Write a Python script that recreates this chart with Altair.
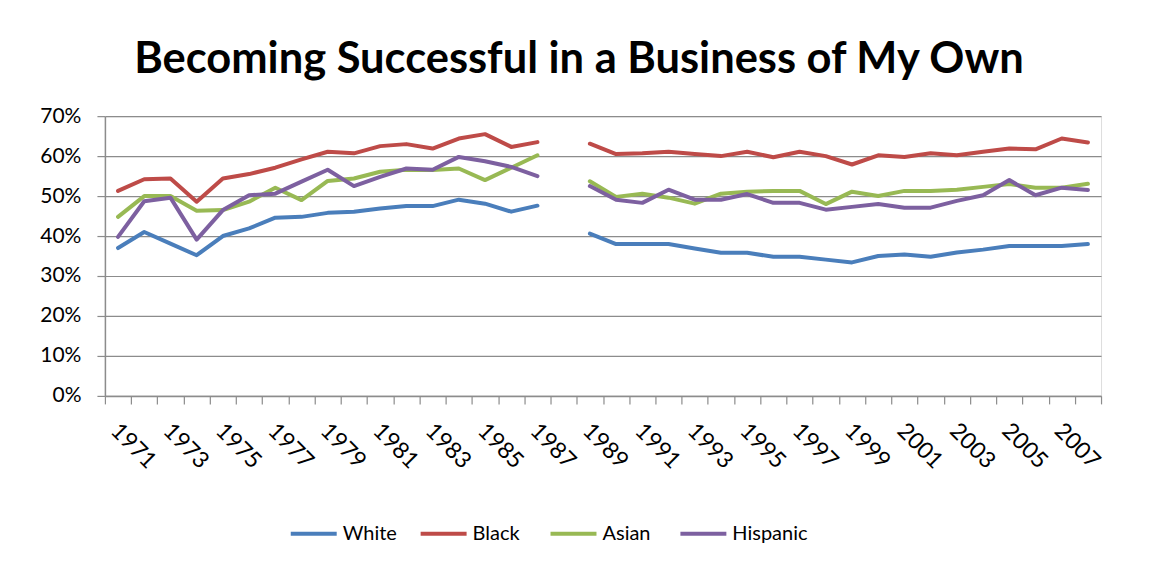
import altair as alt
import pandas as pd

years = list(range(1971, 2009))

white = [37.0, 41.0, 38.1, 35.2, 40.0, 41.9, 44.6, 44.8, 45.8, 46.1, 46.9, 47.5, 47.5, 49.1, 48.1, 46.1, 47.6,
         None,
         40.6, 38.0, 38.0, 38.0, 36.9, 35.8, 35.8, 34.8, 34.8, 34.1, 33.4, 35.0, 35.4, 34.8, 35.9, 36.6, 37.5, 37.5, 37.5, 38.0]
black = [51.3, 54.2, 54.4, 48.6, 54.4, 55.5, 57.1, 59.2, 61.1, 60.7, 62.5, 63.0, 61.9, 64.4, 65.5, 62.3, 63.5,
         None,
         63.1, 60.5, 60.7, 61.1, 60.5, 60.0, 61.1, 59.7, 61.1, 60.0, 57.9, 60.2, 59.8, 60.7, 60.2, 61.1, 61.9, 61.7, 64.4, 63.4]
asian = [44.8, 50.0, 50.0, 46.3, 46.5, 48.6, 52.1, 49.0, 53.8, 54.4, 56.1, 56.6, 56.5, 56.9, 54.0, 57.1, 60.2,
         None,
         53.7, 49.8, 50.6, 49.6, 48.1, 50.6, 51.1, 51.3, 51.3, 48.0, 51.1, 50.0, 51.3, 51.3, 51.6, 52.3, 53.0, 52.1, 52.1, 53.1]
hispanic = [39.8, 48.7, 49.6, 39.1, 46.5, 50.2, 50.6, 53.6, 56.6, 52.5, 54.8, 56.9, 56.6, 59.8, 58.7, 57.3, 55.0,
            None,
            52.5, 49.1, 48.3, 51.6, 49.1, 49.1, 50.5, 48.3, 48.3, 46.6, 47.3, 48.0, 47.1, 47.1, 48.8, 50.2, 54.0, 50.2, 52.1, 51.5]

series = {"White": white, "Black": black, "Asian": asian, "Hispanic": hispanic}
colors = ["#4A7EBB", "#BE4B48", "#98B954", "#7D60A0"]

rows = []
for name, vals in series.items():
    for y, v in zip(years, vals):
        if v is not None:
            rows.append({"year": y, "value": v, "group": name, "seg": 0 if y < 1988 else 1})
df = pd.DataFrame(rows)

FONT = "Lato"

chart = alt.Chart(df).mark_line(strokeWidth=4, strokeJoin="round", strokeCap="round").encode(
    x=alt.X("year:O",
            scale=alt.Scale(type="band", domain=years, paddingInner=0, paddingOuter=0),
            bandPosition=0.5,
            axis=alt.Axis(title=None, tickBand="extent", labelExpr="datum.value % 2 == 1 ? datum.label : ''",
                          labelAngle=45, labelAlign="left", labelBaseline="middle", labelPadding=23,
                          labelOffset=-4,
                          labelOverlap=False, labelFontSize=23, labelFont=FONT, labelColor="#000000",
                          tickSize=8, tickColor="#8C8C8C", domainColor="#8C8C8C", tickWidth=1.2,
                          domainWidth=1.5, grid=False)),
    y=alt.Y("value:Q",
            scale=alt.Scale(domain=[0, 70], nice=False),
            axis=alt.Axis(title=None, values=[0, 10, 20, 30, 40, 50, 60, 70],
                          labelExpr="datum.value + '%'", labelFontSize=21, labelFont=FONT,
                          labelColor="#000000", labelPadding=16, tickSize=8, tickColor="#8C8C8C",
                          domainColor="#8C8C8C", gridColor="#8C8C8C", gridWidth=1.2, tickWidth=1.2,
                          domainWidth=1.5)),
    color=alt.Color("group:N", scale=alt.Scale(domain=list(series.keys()), range=colors),
                    legend=alt.Legend(title=None, orient="none", direction="horizontal", columns=4,
                                      legendX=184, legendY=393, symbolType="stroke",
                                      symbolSize=2116, symbolStrokeWidth=4, labelFontSize=20,
                                      labelFont=FONT, labelColor="#000000", columnPadding=-15,
                                      gridAlign="all", labelOffset=4, labelLimit=200)),
    detail="seg:N",
).properties(
    width=997, height=280,
    title=alt.TitleParams("Becoming Successful in a Business of My Own", font=FONT, fontSize=43.5,
                          fontWeight="bold", color="#000000", anchor="middle", dx=-24, dy=52,
                          frame="group", baseline="alphabetic", offset=41),
    autosize=alt.AutoSizeParams(type="none"),
    padding={"left": 97, "top": 108, "right": 40, "bottom": 160},
).configure_view(stroke=None).configure(background="white")

chart.save("out.html", embed_options={"renderer": "svg", "actions": False})
